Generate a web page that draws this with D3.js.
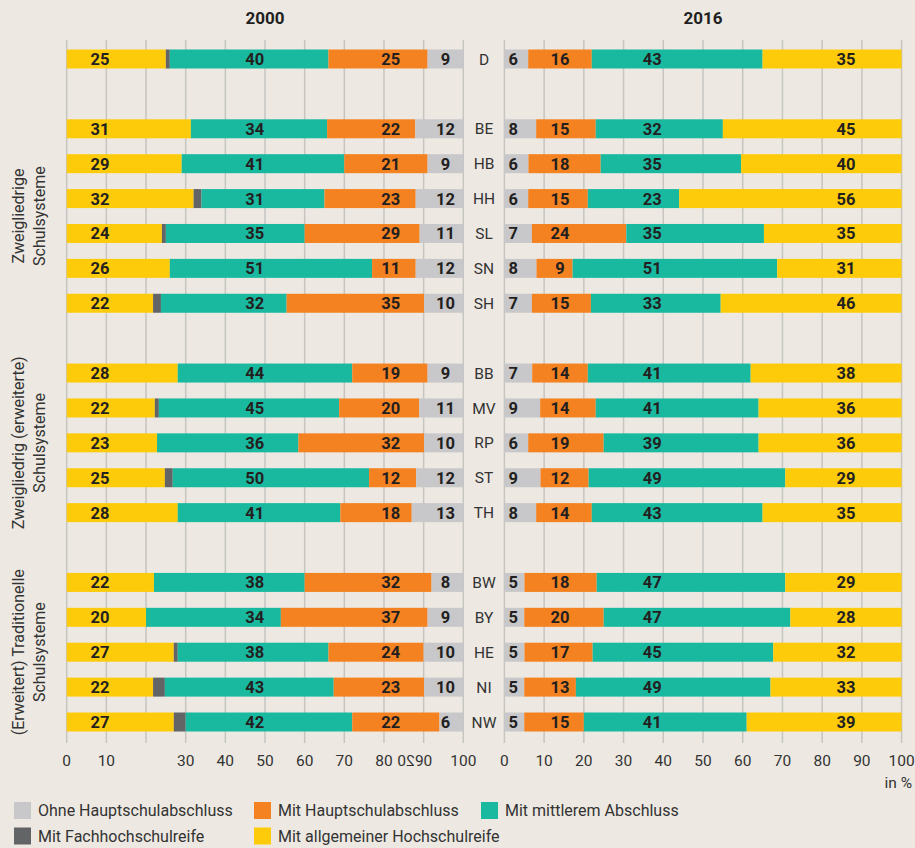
<!DOCTYPE html>
<html><head><meta charset="utf-8">
<script src="https://cdn.jsdelivr.net/npm/d3@7"></script>
<style>
body{margin:0;background:#ede9e2;}
svg{display:block;font-family:Roboto, "Noto Sans", sans-serif;}
</style>
</head><body><svg id="c" width="915" height="848"></svg>
<script>
// ---------- data ----------
const states = ["D","BE","HB","HH","SL","SN","SH","BB","MV","RP","ST","TH","BW","BY","HE","NI","NW"];
const slots  = ["D","g1","BE","HB","HH","SL","SN","SH","g2","BB","MV","RP","ST","TH","g3","BW","BY","HE","NI","NW"];
// 2000
const allg2000  = [25,31,29,32,24,26,22,28,22,23,25,28,22,20,27,22,27];
const fh2000    = [1,0,0,2,1,0,2,0,1,0,2,0,0,0,1,3,3];
const mittl2000 = [40,34,41,31,35,51,32,44,45,36,50,41,38,34,38,43,42];
const haupt2000 = [25,22,21,23,29,11,35,19,20,32,12,18,32,37,24,23,22];
const ohne2000  = [9,12,9,12,11,12,10,9,11,10,12,13,8,9,10,10,6];
// 2016
const ohne2016  = [6,8,6,6,7,8,7,7,9,6,9,8,5,5,5,5,5];
const haupt2016 = [16,15,18,15,24,9,15,14,14,19,12,14,18,20,17,13,15];
const mittl2016 = [43,32,35,23,35,51,33,41,41,39,49,43,47,47,45,49,41];
const allg2016  = [35,45,40,56,35,31,46,38,36,36,29,35,29,28,32,33,39];

const tickValues = [0,10,20,30,40,50,60,70,80,90,100];
const leftTickLabels = [0,10,30,40,50,60,70,80,90,100];
const panelTitles = ["2000","2016"];
const groupLabels = [
  {lines:["Zweigliedrige","Schulsysteme"], from:"BE", to:"SH"},
  {lines:["Zweigliedrig (erweiterte)","Schulsysteme"], from:"BB", to:"TH"},
  {lines:["(Erweitert) Traditionelle","Schulsysteme"], from:"BW", to:"NW"}
];
const legendNames = ["Ohne Hauptschulabschluss","Mit Hauptschulabschluss","Mit mittlerem Abschluss","Mit Fachhochschulreife","Mit allgemeiner Hochschulreife"];

// ---------- styling ----------
const colors = {
  ohne:"#c8c8ca", haupt:"#f58220", mittl:"#19b9a0", fh:"#636466", allg:"#fecb0a"
};
const legendKeys = ["ohne","haupt","mittl","fh","allg"];
const textDark = "#231f20";

const svg = d3.select("#c");
svg.append("rect").attr("width",915).attr("height",848).attr("fill","#ede9e2");

const y = d3.scalePoint().domain(slots).range([41.55, 739.45]).padding(0.5);
const barH = 19;
const gridTop = 40, gridBottom = 743;

const xL = d3.scaleLinear().domain([0,1]).range([66.7, 463.3]);
const xR = d3.scaleLinear().domain([0,1]).range([504.4, 901.6]);
const pct = d3.scaleLinear().domain([0,100]).range([0,1]);

// rows
const rows2000 = states.map((s,i)=>({state:s, allg:allg2000[i], fh:fh2000[i], mittl:mittl2000[i], haupt:haupt2000[i], ohne:ohne2000[i]}));
const rows2016 = states.map((s,i)=>({state:s, ohne:ohne2016[i], haupt:haupt2016[i], mittl:mittl2016[i], allg:allg2016[i]}));

const panels = [
  {x:xL, rows:rows2000, keys:["allg","fh","mittl","haupt","ohne"],
   labelPos:{allg:0.084, mittl:0.474, haupt:0.817, ohne:0.955}},
  {x:xR, rows:rows2016, keys:["ohne","haupt","mittl","allg"],
   labelPos:{ohne:0.022, haupt:0.14, mittl:0.372, allg:0.86}}
];

panels.forEach((p,pi)=>{
  const g = svg.append("g");
  // gridlines
  g.selectAll("line.grid").data(tickValues).join("line")
    .attr("x1",d=>p.x(pct(d))).attr("x2",d=>p.x(pct(d)))
    .attr("y1",gridTop).attr("y2",gridBottom)
    .attr("stroke","#c6c5c2").attr("stroke-width",1.5);
  // stacked bars
  const series = d3.stack().keys(p.keys).offset(d3.stackOffsetExpand)(p.rows);
  series.forEach(s=>{
    g.append("g").selectAll("rect").data(s).join("rect")
      .attr("x",d=>p.x(d[0]))
      .attr("width",d=>Math.max(0,p.x(d[1])-p.x(d[0])))
      .attr("y",d=>y(d.data.state)-barH/2)
      .attr("height",barH)
      .attr("fill",colors[s.key]);
  });
  // value labels
  Object.keys(p.labelPos).forEach(k=>{
    g.append("g").selectAll("text").data(p.rows).join("text")
      .attr("x",p.x(p.labelPos[k]))
      .attr("y",d=>y(d.state))
      .attr("dy","0.36em")
      .attr("text-anchor","middle")
      .attr("font-size",16.5).attr("font-weight","bold")
      .attr("fill",textDark)
      .text(d=>d[k]);
  });
  // title
  svg.append("text").attr("x",p.x(0.5)).attr("y",18).attr("dy","0.36em")
    .attr("text-anchor","middle").attr("font-size",17).attr("font-weight","bold")
    .attr("fill",textDark).text(panelTitles[pi]);
  // tick labels
  const tl = pi===0 ? leftTickLabels : tickValues;
  g.selectAll("text.tick").data(tl).join("text")
    .attr("x",d=>p.x(pct(d))).attr("y",760).attr("dy","0.36em")
    .attr("text-anchor","middle").attr("font-size",15.5).attr("fill","#333")
    .text(d=>d);
});

// misplaced, mirrored "20" label in the 2000 axis
svg.append("text").attr("transform","translate(406,760) scale(-1,1)")
  .attr("dy","0.36em").attr("text-anchor","middle").attr("font-size",15.5)
  .attr("fill","#333").text("20");

// state labels between panels
svg.append("g").selectAll("text").data(states).join("text")
  .attr("x",484).attr("y",d=>y(d)).attr("dy","0.36em")
  .attr("text-anchor","middle").attr("font-size",15.5).attr("fill","#333")
  .text(d=>d);

// group labels
groupLabels.forEach(gl=>{
  const cy = (y(gl.from)+y(gl.to))/2;
  gl.lines.forEach((ln,li)=>{
    svg.append("text")
      .attr("transform",`translate(${18+li*21.5},${cy}) rotate(-90)`)
      .attr("dy","0.36em").attr("text-anchor","middle")
      .attr("font-size",16).attr("fill","#333").text(ln);
  });
});

// "in %"
svg.append("text").attr("x",912).attr("y",782).attr("dy","0.36em")
  .attr("text-anchor","end").attr("font-size",15.5).attr("fill","#333").text("in %");

// legend
const legPos = [[14,810.5],[254,810.5],[481,810.5],[14,836],[254,836]];
legendKeys.forEach((k,i)=>{
  const [lx,ly] = legPos[i];
  svg.append("rect").attr("x",lx).attr("y",ly-8.5).attr("width",17).attr("height",17).attr("fill",colors[k]);
  svg.append("text").attr("x",lx+24).attr("y",ly).attr("dy","0.36em")
    .attr("font-size",16).attr("fill","#333").text(legendNames[i]);
});
</script>
</body></html>
